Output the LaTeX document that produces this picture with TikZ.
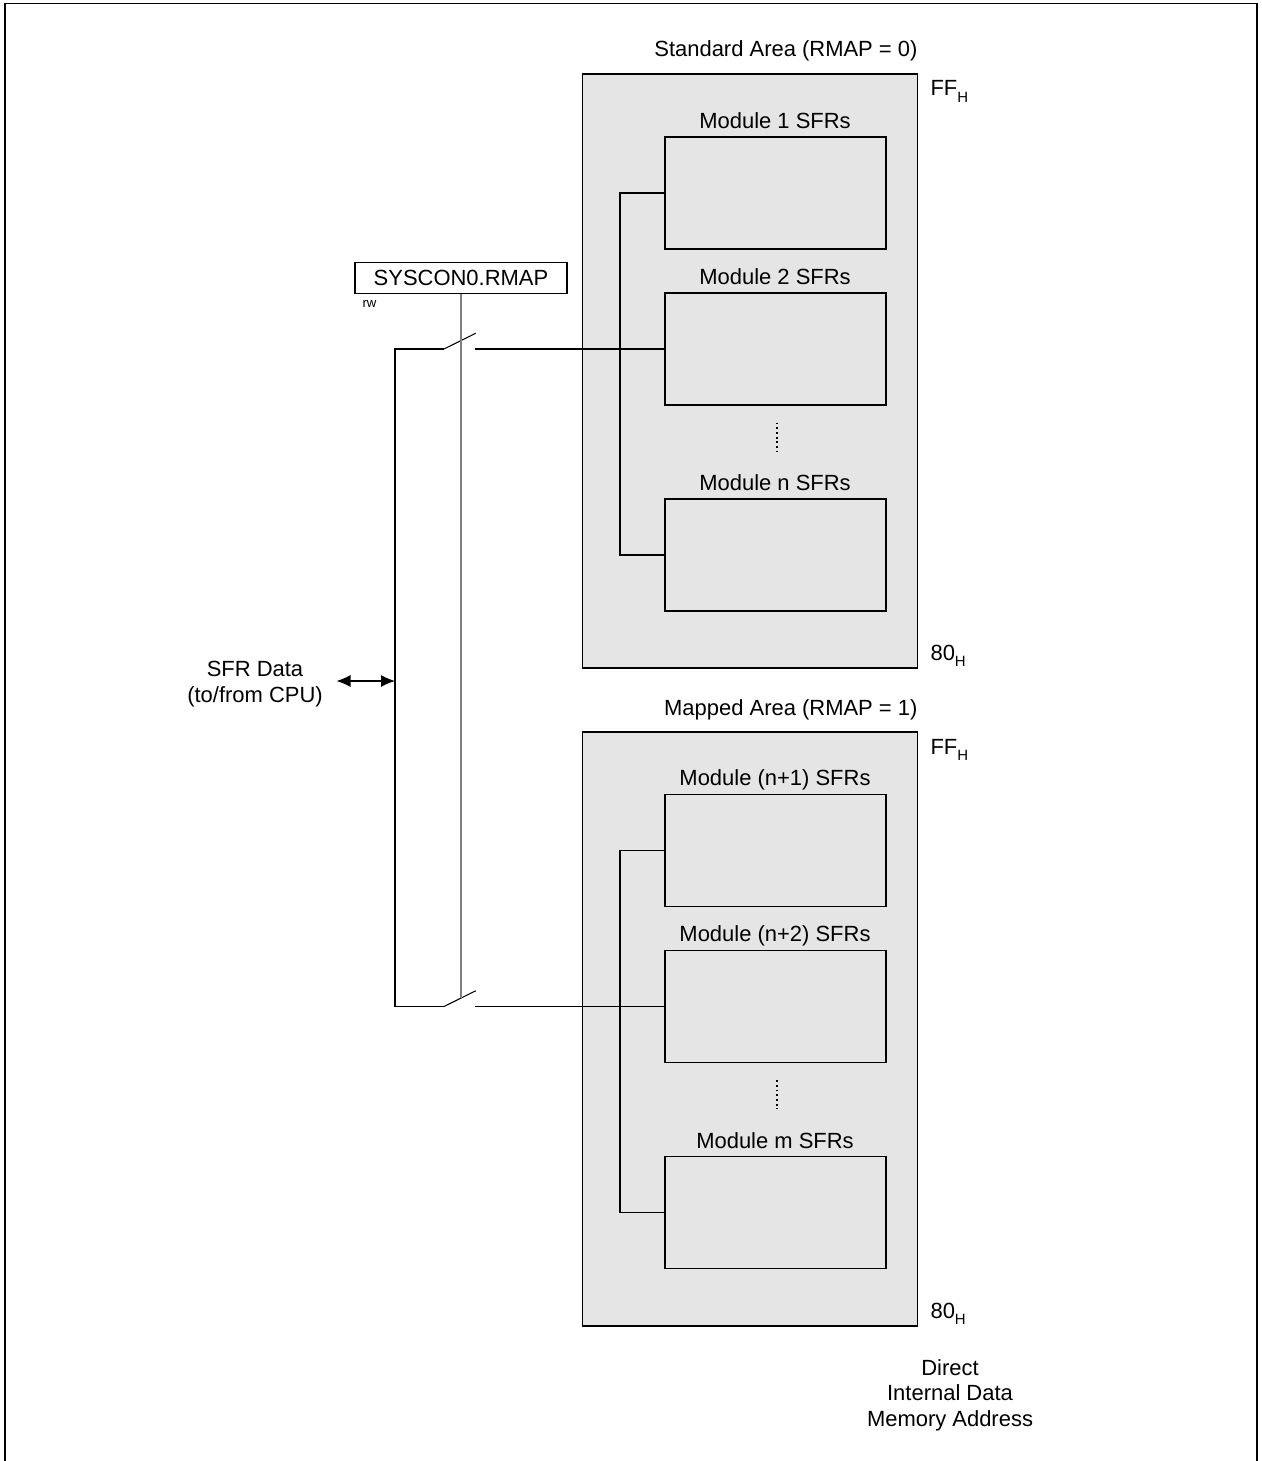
\documentclass[tikz,border=0pt]{standalone}
\usepackage{fontspec}
\setmainfont{Liberation Sans}
\usepackage{tikz}
\usetikzlibrary{calc}
\usetikzlibrary{arrows.meta}
\tikzset{>={Latex[length=2.8mm,width=2.4mm]}}
\newcommand{\hsub}{\raisebox{-3.5pt}{\fontsize{8.5}{10}\selectfont H}}

\begin{document}
\begin{tikzpicture}[font=\fontsize{12.5}{14.6}\selectfont,line width=0.6pt,
	area/.style={draw,fill=black!10,minimum width=6.7cm,minimum height=11.88cm,inner sep=0},
	module/.style={draw,minimum width=4.42cm,minimum height=2.24cm,inner sep=0},
	txt/.style={inner sep=0},
	dots/.style={line width=1.1pt,dash pattern=on 1.1pt off 1.6pt},
	ctrl/.style={draw=black!50,line width=0.7pt}]
	\useasboundingbox (0,0) rectangle (25.22,-29.22);
	\draw[line width=1.1pt] (0.10,-29.22) -- (0.10,-0.07) -- (25.14,-0.07) -- (25.14,-29.22);
	% standard area
	\node[area] (stdarea) at (15.0,-7.42) {};
	\node[txt,anchor=base east] (stdtitle) at (18.36,-1.14) {Standard Area (RMAP = 0)};
	\node[txt,anchor=base west] (stdtop) at (18.6,-1.92) {FF\hsub};
	\node[txt,anchor=base west] (stdbot) at (18.6,-13.2) {80\hsub};
	\node[module] (mod1) at (15.51,-3.86) {};
	\node[txt,anchor=base] (mod1lbl) at (15.5,-2.57) {Module 1 SFRs};
	\node[module] (mod2) at (15.51,-6.98) {};
	\node[txt,anchor=base] (mod2lbl) at (15.5,-5.69) {Module 2 SFRs};
	\node[module] (modn) at (15.51,-11.10) {};
	\node[txt,anchor=base] (modnlbl) at (15.5,-9.81) {Module n SFRs};
	\draw[dots] (15.54,-8.45) -- (15.54,-9.02);
	\draw (mod1.west) -- ++(-0.89,0) |- (modn.west);
	% mapped area
	\node[area] (maparea) at (15.0,-20.58) {};
	\node[txt,anchor=base east] (maptitle) at (18.36,-14.30) {Mapped Area (RMAP = 1)};
	\node[txt,anchor=base west] (maptop) at (18.6,-15.08) {FF\hsub};
	\node[txt,anchor=base west] (mapbot) at (18.6,-26.36) {80\hsub};
	\node[module] (modn1) at (15.51,-17.01) {};
	\node[txt,anchor=base] (modn1lbl) at (15.5,-15.71) {Module (n+1) SFRs};
	\node[module] (modn2) at (15.51,-20.13) {};
	\node[txt,anchor=base] (modn2lbl) at (15.5,-18.83) {Module (n+2) SFRs};
	\node[module] (modm) at (15.51,-24.25) {};
	\node[txt,anchor=base] (modmlbl) at (15.5,-22.96) {Module m SFRs};
	\draw[dots] (15.54,-21.60) -- (15.54,-22.17);
	\draw (modn1.west) -- ++(-0.89,0) |- (modm.west);
	% switches
	\coordinate (swA) at (7.90,-6.98);
	\coordinate (hingeA) at (8.88,-6.98);
	\coordinate (tipA) at (9.514,-6.666);
	\coordinate (contA) at (9.50,-6.98);
	\coordinate (swB) at (7.90,-20.13);
	\coordinate (hingeB) at (8.88,-20.13);
	\coordinate (tipB) at (9.514,-19.816);
	\coordinate (contB) at (9.50,-20.13);
	\coordinate (selB) at ($(hingeB)!0.536!(tipB)$);
	\draw (hingeA) -- (swA) -- (swB) -- (hingeB);
	\draw (hingeA) -- (tipA) (hingeB) -- (tipB);
	\draw (contA) -- (mod2.west) (contB) -- (modn2.west);
	\node[draw,fill=white,minimum width=4.24cm,minimum height=0.62cm,inner sep=0] (rmap) at (9.22,-5.556) {SYSCON0.RMAP};
	\node[txt,anchor=base west,font=\fontsize{7.5}{9}\selectfont] (rw) at (7.24,-6.16) {rw};
	\draw[ctrl] (rmap.south) -- (rmap.south |- selB);
	% cpu side
	\coordinate (cpu) at (6.73,-13.62);
	\draw[<->] (cpu) -- (cpu -| swA);
	\node[txt,align=center] (sfr) at (5.10,-13.68) {SFR Data\\(to/from CPU)};
	\node[txt,align=center] (addr) at (19.0,-27.9) {Direct\\Internal Data\\Memory Address};
\end{tikzpicture}
\end{document}
